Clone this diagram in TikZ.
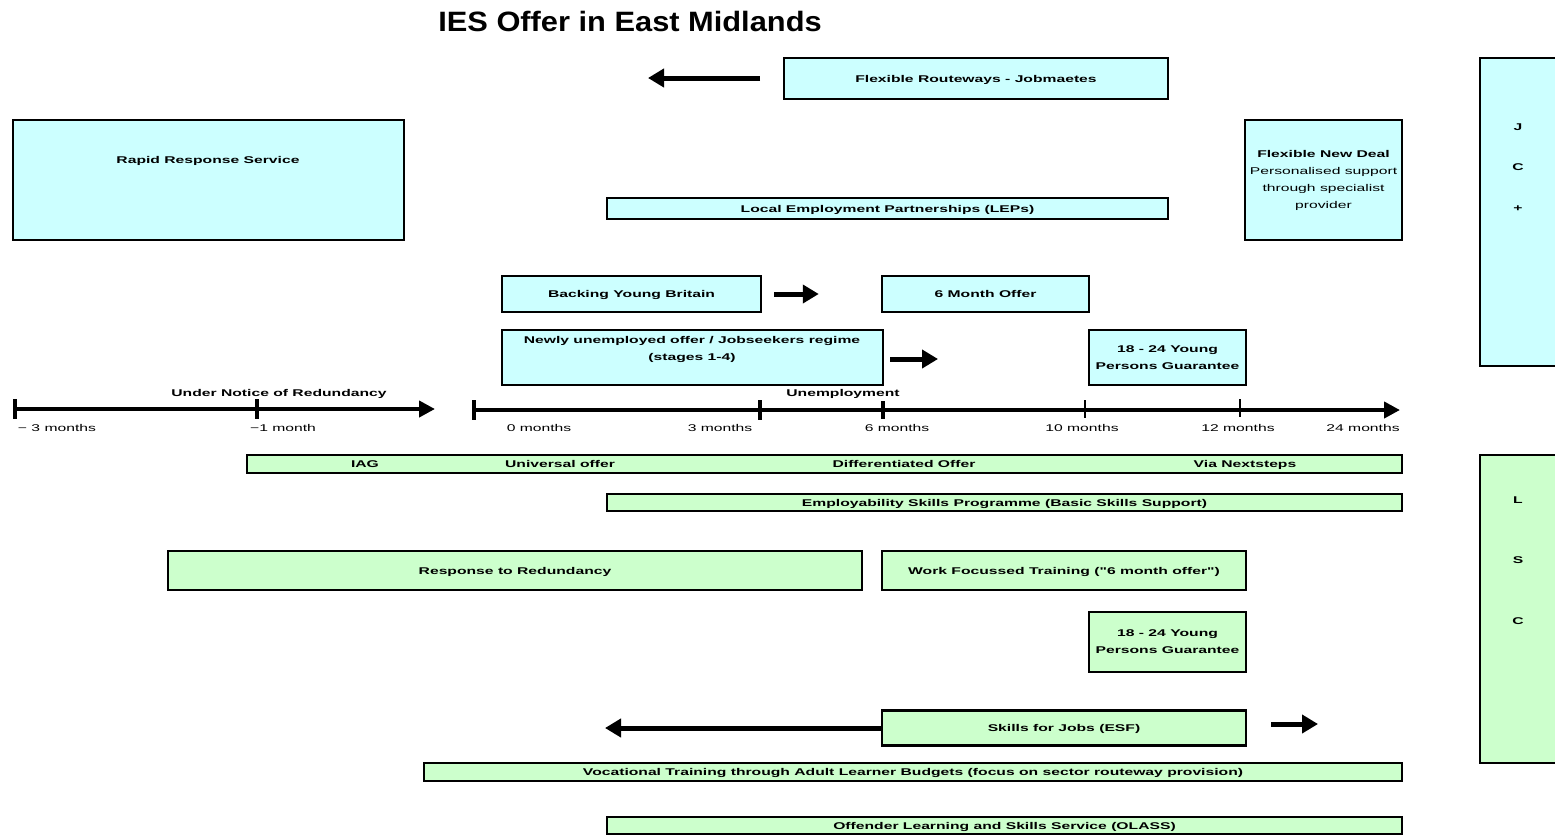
\documentclass[tikz,border=0pt]{standalone}
\usepackage{fontspec}
\usepackage{tikz}
\usetikzlibrary{arrows.meta}
\newfontfamily\iesfont[FakeStretch=1.6]{Liberation Sans}
\newfontfamily\iestitle[FakeStretch=1.1]{Liberation Sans}
\definecolor{jcpcyan}{HTML}{CCFFFF}
\definecolor{lscgreen}{HTML}{CCFFCC}
\newcommand{\boxtext}{\iesfont\bfseries\fontsize{9.8}{17}\selectfont}
\newcommand{\ticktext}{\iesfont\fontsize{9.8}{17}\selectfont}
\tikzset{
  jcp/.style={draw, line width=2.5pt, fill=jcpcyan, inner sep=0pt, align=center, font=\boxtext},
  lsc/.style={draw, line width=2.5pt, fill=lscgreen, inner sep=0pt, align=center, font=\boxtext},
  slim/.style={text height=8pt, text depth=1pt},
  lbl/.style={inner sep=0pt, align=center, font=\boxtext},
  tlbl/.style={inner sep=0pt, font=\ticktext, slim},
  fat/.style={line width=5pt, -{Triangle[length=16pt,width=18pt]}},
  axis/.style={line width=4pt, -{Triangle[length=16pt,width=16pt]}},
  tickmark/.style={line width=4pt},
  smalltick/.style={line width=2.5pt}
}

\begin{document}
\begin{tikzpicture}[x=1pt, y=-1pt]
\useasboundingbox (0,0) rectangle (1555,836);

\node[inner sep=0pt, font=\iestitle\bfseries\fontsize{28}{30}\selectfont, text height=20pt, text depth=0pt] (title) at (630,21.5) {IES Offer in East Midlands};

% JC+ offers
\node[jcp, minimum width=384pt, minimum height=41pt, slim] (frw) at (976,78.5) {Flexible Routeways - Jobmaetes};
\coordinate (frwstart) at (760,78);
\coordinate (frwend) at (648,78);
\draw[fat] (frwstart) -- (frwend);

\node[jcp, minimum width=391pt, minimum height=120pt] (rrs) at (208.5,180) {};
\node[lbl, slim] (rrstext) at (208,160) {Rapid Response Service};
\node[jcp, minimum width=561pt, minimum height=21pt, slim] (lep) at (887.5,208.5) {Local Employment Partnerships (LEPs)};
\node[jcp, minimum width=157pt, minimum height=120pt] (fnd) at (1323.5,180) {Flexible New Deal\\{\mdseries Personalised support}\\{\mdseries through specialist}\\{\mdseries provider}};

\node[jcp, minimum width=90pt, minimum height=308pt] (jcbar) at (1525,212) {};
\node[lbl, font=\boxtext\fontsize{9.8}{40.5}\selectfont] (jctext) at (1518,167.5) {J\\C\\+};

\node[jcp, minimum width=259pt, minimum height=36pt, slim] (byb) at (631.5,294) {Backing Young Britain};
\node[jcp, minimum width=207pt, minimum height=36pt, slim] (smo) at (985.5,294) {6 Month Offer};
\draw[fat] ([xshift=12pt]byb.east) -- ([xshift=-62pt]smo.west);

\node[jcp, minimum width=381pt, minimum height=55pt] (nuo) at (692.5,357.5) {};
\node[lbl] (nuotext) at (692,349.5) {Newly unemployed offer / Jobseekers regime\\(stages 1-4)};
\node[jcp, minimum width=157pt, minimum height=55pt] (ypgj) at (1167.5,357.5) {18 - 24 Young\\Persons Guarantee};
\coordinate (nuostart) at (890,359);
\coordinate (nuoend) at (938,359);
\draw[fat] (nuostart) -- (nuoend);

% time lines
\draw[axis] (15,409) -- (435,409);
\draw[tickmark] (15,399) -- (15,419);
\draw[tickmark] (257,399) -- (257,419);
\node[lbl, slim] (unr) at (279,393) {Under Notice of Redundancy};
\node[tlbl] (m3) at (57,428) {− 3 months};
\node[tlbl] (m1) at (283,428) {−1 month};

\draw[axis] (474,410) -- (1400,410);
\draw[tickmark] (474,400) -- (474,420);
\draw[tickmark] (760,400) -- (760,420);
\draw[tickmark] (883,401) -- (883,419);
\draw[smalltick] (1085,400) -- (1085,418);
\draw[smalltick] (1240,399) -- (1240,417);
\node[lbl, slim] (unemp) at (843,393) {Unemployment};
\node[tlbl] (p0) at (539,428) {0 months};
\node[tlbl] (p3) at (720,428) {3 months};
\node[tlbl] (p6) at (897,428) {6 months};
\node[tlbl] (p10) at (1082,428) {10 months};
\node[tlbl] (p12) at (1238,428) {12 months};
\node[tlbl] (p24) at (1363,428) {24 months};

% LSC offers
\node[lsc, minimum width=1155pt, minimum height=18pt] (iag) at (824.5,464) {};
\node[lbl, slim] (iagt1) at (365,463.5) {IAG};
\node[lbl, slim] (iagt2) at (560,463.5) {Universal offer};
\node[lbl, slim] (iagt3) at (904,463.5) {Differentiated Offer};
\node[lbl, slim] (iagt4) at (1245,463.5) {Via Nextsteps};
\node[lsc, minimum width=795pt, minimum height=17pt, slim] (esp) at (1004.5,502.5) {Employability Skills Programme (Basic Skills Support)};

\node[lsc, minimum width=694pt, minimum height=39pt, slim] (rtr) at (515,570.5) {Response to Redundancy};
\node[lsc, minimum width=364pt, minimum height=39pt, slim] (wft) at (1064,570.5) {Work Focussed Training ("6 month offer")};
\node[lsc, minimum width=157pt, minimum height=60pt] (ypgl) at (1167.5,642) {18 - 24 Young\\Persons Guarantee};

\node[lsc, minimum width=364pt, minimum height=35pt, slim] (sfj) at (1064,728) {Skills for Jobs (ESF)};
\coordinate (sfjl) at (605,728);
\draw[fat] (sfj.west) -- (sfjl);
\coordinate (sfjr1) at (1271,724);
\coordinate (sfjr2) at (1318,724);
\draw[fat] (sfjr1) -- (sfjr2);

\node[lsc, minimum width=978pt, minimum height=18pt, slim] (vtb) at (913,772) {Vocational Training through Adult Learner Budgets (focus on sector routeway provision)};
\node[lsc, minimum width=795pt, minimum height=17pt, slim] (olass) at (1004.5,825.5) {Offender Learning and Skills Service (OLASS)};

\node[lsc, minimum width=90pt, minimum height=308pt] (lscbar) at (1525,609) {};
\node[lbl, font=\boxtext\fontsize{9.8}{60.5}\selectfont] (lsctext) at (1518,560.5) {L\\S\\C};

\end{tikzpicture}
\end{document}
